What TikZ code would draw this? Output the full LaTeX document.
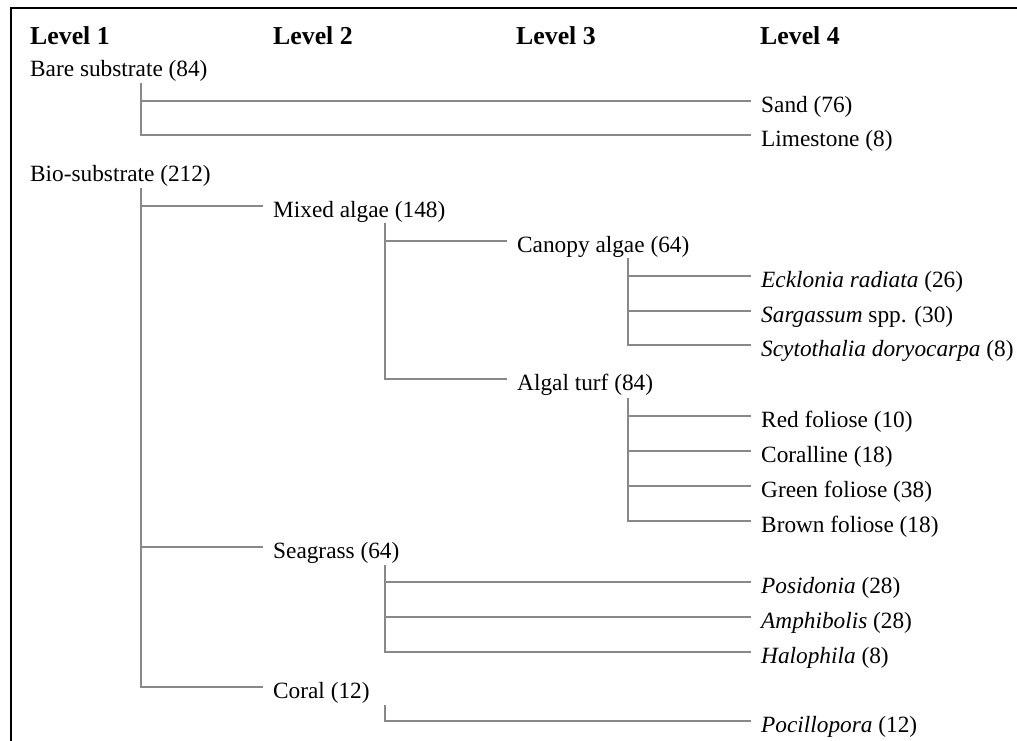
\documentclass[tikz,border=0pt]{standalone}
\usepackage{fontspec}
\setmainfont{Liberation Serif}
\definecolor{linkgray}{RGB}{136,136,136}
\begin{document}
\begin{tikzpicture}[x=1pt,y=-1pt,
  label/.style={anchor=base west, inner sep=0pt, font=\fontsize{23.3}{28}\selectfont},
  head/.style={anchor=base west, inner sep=0pt, font=\bfseries\fontsize{25.8}{30}\selectfont},
  link/.style={draw=linkgray, line width=1.1pt},
  frame/.style={draw=black, line width=2pt}]
\useasboundingbox (0,0) rectangle (1017,740);

% frame (top and left edges)
\draw[frame] (11,745) -- (11,8) -- (1025,8);

% column headings
\node[head] (h1) at (30,44)  {Level 1};
\node[head] (h2) at (273,44) {Level 2};
\node[head] (h3) at (516,44) {Level 3};
\node[head] (h4) at (760,44) {Level 4};

% level 1
\node[label] (bare) at (30,76)  {Bare substrate (84)};
\node[label] (bio)  at (30,181) {Bio-substrate (212)};

% level 2
\node[label] (mixed)    at (273,217) {Mixed algae (148)};
\node[label] (seagrass) at (273,558) {Seagrass (64)};
\node[label] (coral)    at (273,698) {Coral (12)};

% level 3
\node[label] (canopy) at (517,252) {Canopy algae (64)};
\node[label] (turf)   at (517,390) {Algal turf (84)};

% level 4
\node[label] (sand)      at (761,112) {Sand (76)};
\node[label] (limestone) at (761,146) {Limestone (8)};
\node[label] (ecklonia)  at (761,287) {\textit{Ecklonia radiata} (26)};
\node[label] (sargassum) at (761,322) {\textit{Sargassum} spp. (30)};
\node[label] (scyto)     at (761,356) {\textit{Scytothalia doryocarpa} (8)};
\node[label] (red)       at (761,427) {Red foliose (10)};
\node[label] (coralline) at (761,462) {Coralline (18)};
\node[label] (green)     at (761,497) {Green foliose (38)};
\node[label] (brown)     at (761,532) {Brown foliose (18)};
\node[label] (posidonia) at (761,593) {\textit{Posidonia} (28)};
\node[label] (amphib)    at (761,628) {\textit{Amphibolis} (28)};
\node[label] (halo)      at (761,663) {\textit{Halophila} (8)};
\node[label] (pocill)    at (761,732) {\textit{Pocillopora} (12)};

% spine tops just below each parent
\coordinate (bare-j)     at ([xshift=111pt,yshift=-7pt]bare.base west);
\coordinate (bio-j)      at ([xshift=111pt,yshift=-7pt]bio.base west);
\coordinate (mixed-j)    at ([xshift=112pt,yshift=-6pt]mixed.base west);
\coordinate (seagrass-j) at ([xshift=112pt,yshift=-7pt]seagrass.base west);
\coordinate (coral-j)    at ([xshift=112pt,yshift=-7pt]coral.base west);
\coordinate (canopy-j)   at ([xshift=111pt,yshift=-6pt]canopy.base west);
\coordinate (turf-j)     at ([xshift=111pt,yshift=-8pt]turf.base west);

% connectors
\foreach \p/\c in {bare/sand, bare/limestone,
                   bio/mixed, bio/seagrass, bio/coral,
                   mixed/canopy, mixed/turf,
                   canopy/ecklonia, canopy/sargassum, canopy/scyto,
                   turf/red, turf/coralline, turf/green, turf/brown,
                   seagrass/posidonia, seagrass/amphib, seagrass/halo,
                   coral/pocill}
  \draw[link] (\p-j) |- ([xshift=-10.5pt,yshift=11pt]\c.base west);
\end{tikzpicture}
\end{document}
